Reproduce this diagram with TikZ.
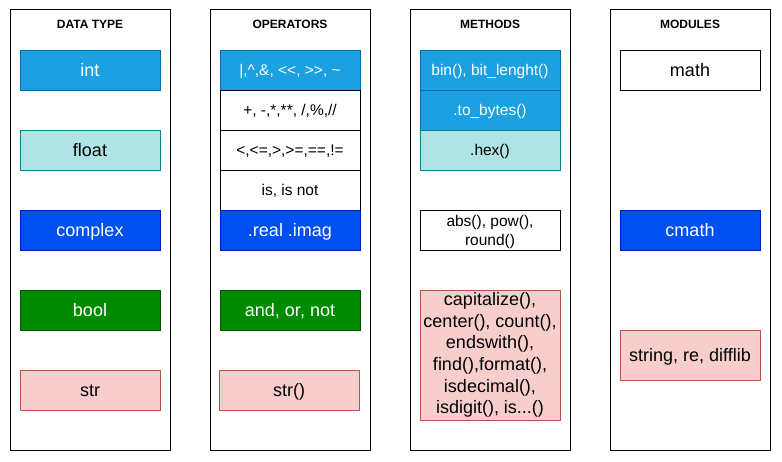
\documentclass[tikz,border=0pt]{standalone}
\usepackage{fontspec}
\setmainfont{Liberation Sans}
\definecolor{lightblue}{HTML}{1BA1E2}
\definecolor{lightblueline}{HTML}{006EAF}
\definecolor{teal}{HTML}{B0E3E6}
\definecolor{tealline}{HTML}{0E8088}
\definecolor{darkblue}{HTML}{0050EF}
\definecolor{darkblueline}{HTML}{001DBC}
\definecolor{darkgreen}{HTML}{008A00}
\definecolor{darkgreenline}{HTML}{005700}
\definecolor{pink}{HTML}{F8CECC}
\definecolor{pinkline}{HTML}{B85450}
\tikzset{
    column/.style={draw,line width=1pt,minimum width=160pt,minimum height=440pt,inner sep=0pt},
    heading/.style={font=\bfseries\fontsize{12}{14}\selectfont,inner sep=0pt},
    box/.style={draw,line width=0.9pt,minimum width=140pt,minimum height=40pt,inner sep=1pt,align=center,font=\fontsize{18}{21.6}\selectfont},
    small/.style={font=\fontsize{15.5}{19}\selectfont},
    oneline/.style={text height=14pt,text depth=1pt},
    smallline/.style={small,text height=12pt,text depth=0.8pt},
    bluebox/.style={box,fill=lightblue,draw=lightblueline,text=white},
    tealbox/.style={box,fill=teal,draw=tealline},
    navybox/.style={box,fill=darkblue,draw=darkblueline,text=white},
    greenbox/.style={box,fill=darkgreen,draw=darkgreenline,text=white},
    pinkbox/.style={box,fill=pink,draw=pinkline},
    plainbox/.style={box,draw=black}
}
\begin{document}
\begin{tikzpicture}[x=1pt,y=-1pt]
    \useasboundingbox (0,0) rectangle (782,462);
    % columns
    \node[column] (typecol) at (90,230) {};
    \node[column] (opcol) at (290,230) {};
    \node[column] (methcol) at (490,230) {};
    \node[column] (modcol) at (690,230) {};
    \node[heading] (typetitle) at (90,24) {DATA TYPE};
    \node[heading] (optitle) at (290,24) {OPERATORS};
    \node[heading] (methtitle) at (490,24) {METHODS};
    \node[heading] (modtitle) at (690,24) {MODULES};
    % data types
    \node[bluebox,oneline] (int) at (90,70) {int};
    \node[tealbox,oneline] (float) at (90,150) {float};
    \node[navybox,oneline] (complex) at (90,230) {complex};
    \node[greenbox,oneline] (bool) at (90,310) {bool};
    \node[pinkbox,oneline] (str) at (90,390) {str};
    % operators
    \node[bluebox,smallline] (bitops) at (290,70) {|,\^{},\&, <{}<, >{}>, \char`\~};
    \node[plainbox,smallline] (arith) at (290,110) {+, -,*,**, /,\%,//};
    \node[plainbox,smallline] (compare) at (290,150) {<,<=,>,>=,==,!=};
    \node[plainbox,smallline] (identity) at (290,190) {is, is not};
    \node[navybox,oneline] (parts) at (290,230) {.real .imag};
    \node[greenbox,oneline] (logic) at (290,310) {and, or, not};
    \node[pinkbox,oneline] (strcall) at (289,390) {str()};
    % methods
    \node[bluebox,smallline] (bincall) at (490,70) {bin(), bit\_lenght()};
    \node[bluebox,smallline] (tobytes) at (490,110) {.to\_bytes()};
    \node[tealbox,smallline] (hexcall) at (490,150) {.hex()};
    \node[plainbox,small] (builtins) at (490,230) {};
    \node[small,align=center,inner sep=0pt] (builtinstext) at (490,232) {abs(), pow(),\\round()};
    \node[pinkbox,minimum height=130pt] (strmeth) at (490,355) {capitalize(),\\center(), count(),\\endswith(),\\find(),format(),\\isdecimal(),\\isdigit(), is...()};
    % modules
    \node[plainbox,oneline] (math) at (690,70) {math};
    \node[navybox,oneline] (cmath) at (690,230) {cmath};
    \node[pinkbox,oneline,minimum height=50pt] (strmods) at (690,355) {string, re, difflib};
\end{tikzpicture}
\end{document}
